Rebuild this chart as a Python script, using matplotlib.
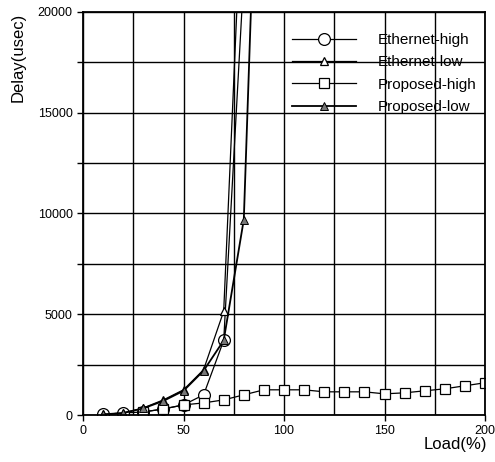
import numpy as np
import matplotlib
matplotlib.use('Agg')
import matplotlib.pyplot as plt

plt.rcParams['font.family'] = ['Liberation Sans', 'DejaVu Sans']

# Values (delay in usec)
load_eth = [10, 20, 30, 40, 50, 60, 70, 80]
eth_high = [30, 100, 150, 300, 500, 1000, 3700, 21800]
eth_low = [30, 100, 350, 750, 1250, 2250, 5150, 28000]

load_prop_high = [30, 40, 50, 60, 70, 80, 90, 100, 110, 120, 130, 140,
                  150, 160, 170, 180, 190, 200]
prop_high = [150, 300, 500, 600, 750, 1000, 1250, 1250, 1250, 1150, 1150, 1150,
             1050, 1100, 1200, 1300, 1450, 1600]

load_prop_low = [10, 20, 30, 40, 50, 60, 70, 80, 90]
prop_low = [30, 100, 330, 700, 1200, 2200, 3700, 9700, 39000]

x_ticks = [0, 50, 100, 150, 200]
y_ticks = [0, 5000, 10000, 15000, 20000]

fig = plt.figure(figsize=(4.95, 4.62), dpi=100)
ax = fig.add_axes([83 / 495, 1 - 415 / 462, 402 / 495, 403 / 462])

ax.plot(load_eth, eth_high, color='black', lw=0.9, marker='o', ms=8.5,
        mfc='white', mec='black', mew=0.9, label='Ethernet-high')
ax.plot(load_eth, eth_low, color='black', lw=0.9, marker='^', ms=5.5,
        mfc='white', mec='black', mew=0.9, label='Ethernet-low')
ax.plot(load_prop_high, prop_high, color='black', lw=0.9, marker='s', ms=6.5,
        mfc='white', mec='black', mew=0.9, label='Proposed-high')
ax.plot(load_prop_low, prop_low, color='black', lw=1.3, marker='^', ms=5.5,
        mfc='#777777', mec='black', mew=0.7, label='Proposed-low')

ax.set_xlim(0, 200)
ax.set_ylim(0, 20000)
ax.set_xticks(x_ticks)
ax.set_yticks(y_ticks)
ax.set_xticks(np.arange(0, 201, 25), minor=True)
ax.set_yticks(np.arange(0, 20001, 2500), minor=True)
ax.grid(True, which='both', color='black', lw=1.0)
ax.set_axisbelow(True)
ax.tick_params(which='both', direction='out', length=4, width=1, labelsize=9,
               colors='black')
ax.tick_params(axis='x', which='minor', length=0)
for s in ax.spines.values():
    s.set_linewidth(1.3)

fig.text(18 / 495, 1 - 57 / 462, 'Delay(usec)', rotation=90, ha='center',
         va='center', fontsize=12)
fig.text(487 / 495, 1 - 445 / 462, 'Load(%)', ha='right', va='center',
         fontsize=12)

ax.legend(loc='upper left', bbox_to_anchor=(0.52, 0.948), frameon=False,
          fontsize=11, handlelength=4.2, handletextpad=1.4, labelspacing=0.55,
          borderpad=0, borderaxespad=0)

fig.savefig('out.png', dpi=100)
